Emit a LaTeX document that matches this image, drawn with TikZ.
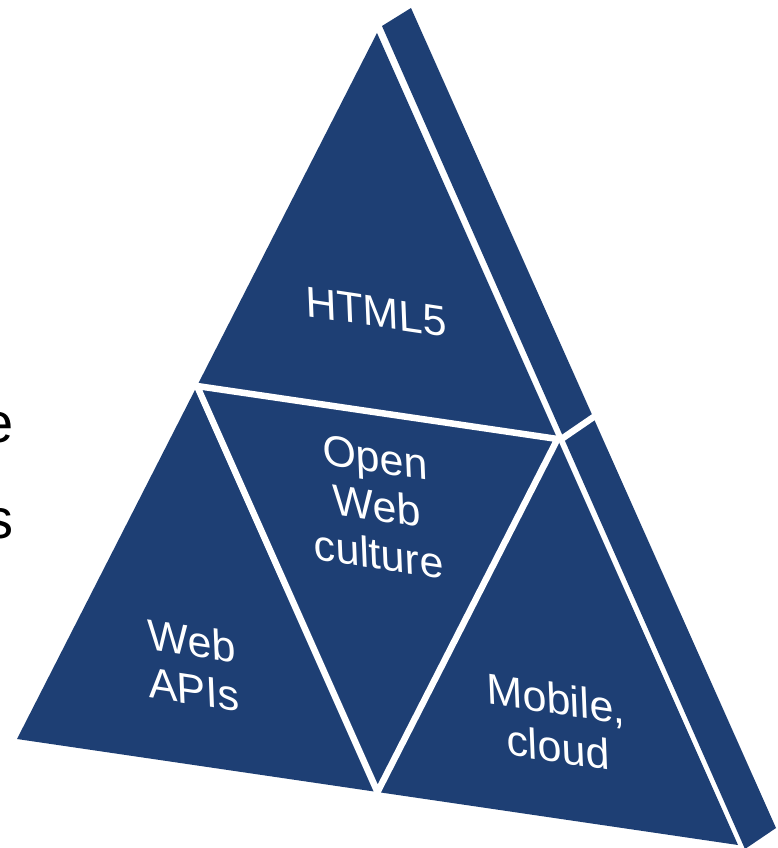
\documentclass[tikz,border=0pt]{standalone}
\usepackage{fontspec}
\setmainfont{Liberation Sans}
\usetikzlibrary{calc}
\definecolor{pyrblue}{RGB}{30,63,116}
\tikzset{
  face/.style={fill=pyrblue, draw=none},
  gap/.style={draw=white, line width=6.5pt, line cap=butt},
  label/.style={text=white, align=center, inner sep=0pt, yslant=-0.15,
    xslant=-0.04, font=\fontsize{43}{48}\selectfont},
  sidetext/.style={text=black, inner sep=0pt, anchor=base east,
    font=\fontsize{56}{60}\selectfont}
}
\begin{document}
\begin{tikzpicture}[x=1pt, y=-1pt]
  \useasboundingbox (0,0) rectangle (778,848);
  \clip (0,0) rectangle (778,848);
  \fill[white] (0,0) rectangle (778,848);

  % front triangle corners
  \coordinate (A) at (377,33);
  \coordinate (B) at (17,739);
  \coordinate (C) at (738,845);
  \coordinate (AB) at ($(A)!0.5!(B)$);
  \coordinate (AC) at ($(A)!0.5!(C)$);
  \coordinate (BC) at ($(B)!0.5!(C)$);

  % side face corners
  \coordinate (S1) at (382,26);
  \coordinate (S2) at (411,8);
  \coordinate (S3) at (776,828);
  \coordinate (S4) at (745,849);
  \coordinate (Sa) at (560,440);
  \coordinate (Sb) at (598,414);

  % faces
  \fill[face] (A) -- (B) -- (C) -- cycle;
  \fill[face] (S1) -- (S2) -- (S3) -- (S4) -- cycle;

  % white seams
  \draw[gap, line join=miter] (AB) -- (AC) -- (BC) -- cycle;
  \draw[gap] (Sa) -- (Sb);

  % labels
  \node[label] (html) at (376,312) {HTML5};
  \node[label] (open) at (377,506) {Open\\Web\\culture};
  \node[label] (apis) at (193,665) {Web\\APIs};
  \node[label] (mob) at (557,723) {Mobile,\\cloud};

  % text at the left border
  \node[sidetext] (le) at (14,442) {e};
  \node[sidetext] (ls) at (14,538) {s};
\end{tikzpicture}
\end{document}
